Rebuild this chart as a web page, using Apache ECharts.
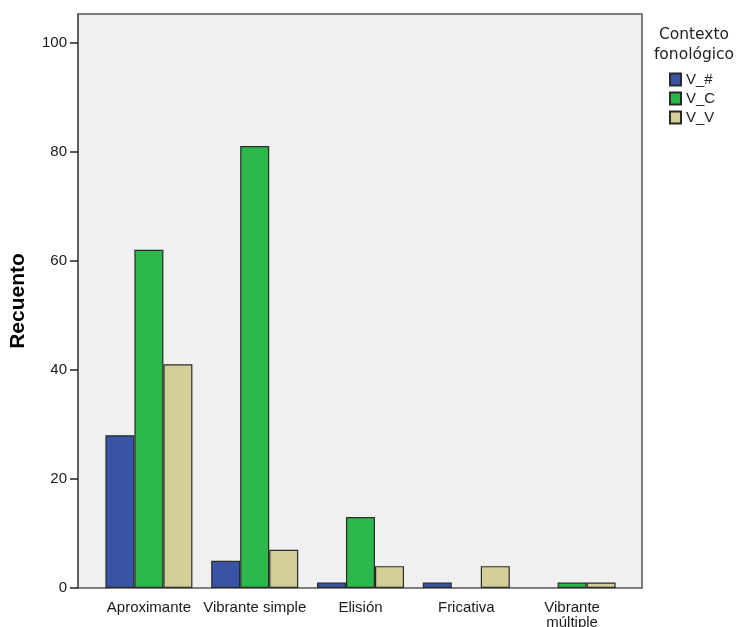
<!DOCTYPE html>
<html>
<head>
<meta charset="utf-8">
<script src="https://cdn.jsdelivr.net/npm/echarts@6/dist/echarts.min.js"></script>
<style>
  html, body { margin: 0; padding: 0; background: #fff; }
  #chart { width: 736px; height: 627px; }
</style>
</head>
<body>
<div id="chart"></div>
<script>
// datos
const categories = ['Aproximante', 'Vibrante simple', 'Elisión', 'Fricativa', 'Vibrante\nmúltiple']
const vHash = [28, 5, 1, 1, 0]
const vC = [62, 81, 13, 0, 1]
const vV = [41, 7, 4, 4, 1]
const yTicks = [0, 20, 40, 60, 80, 100]

const font = 'Liberation Sans, Arial, sans-serif'
// las barras con 0 no se dibujan
const noZero = arr => arr.map(v => (v === 0 ? '-' : v))

function barSeries(name, data, color) {
  return {
    name: name,
    type: 'bar',
    xAxisIndex: 1,
    yAxisIndex: 1,
    data: noZero(data),
    barWidth: 29,
    barGap: '0%',
    itemStyle: {
      color: color,
      borderColor: '#2a2a2a',
      borderWidth: 1.2,
    },
  }
}

const chart = echarts.init(document.querySelector('#chart'))
chart.setOption({
  animation: false,
  title: {
    text: 'Contexto\nfonológico',
    left: 694,
    top: 25,
    padding: 0,
    textAlign: 'center',
    textStyle: {
      fontFamily: 'DejaVu Sans',
      fontSize: 15.5,
      fontWeight: 'normal',
      color: '#222',
      lineHeight: 20,
    },
  },
  legend: {
    orient: 'vertical',
    left: 669,
    top: 72,
    padding: 0,
    icon: 'rect',
    itemWidth: 11,
    itemHeight: 12,
    itemGap: 4,
    textStyle: { fontFamily: font, fontSize: 15, color: '#222' },
    data: ['V_#', 'V_C', 'V_V'],
  },
  grid: [
    // marco exterior
    {
      left: 78, right: 94, top: 14, bottom: 39,
      show: true,
      backgroundColor: '#f0f0f0',
      borderColor: '#555',
      borderWidth: 1.5,
      outerBoundsMode: 'none',
    },
    // zona de barras
    { left: 96, right: 111, top: 14, bottom: 39, outerBoundsMode: 'none', containLabel: false },
  ],
  xAxis: [
    { gridIndex: 0, type: 'value', show: false },
    {
      gridIndex: 1,
      type: 'category',
      data: categories,
      axisLine: { show: false },
      axisTick: {
        alignWithLabel: true,
        length: 8,
        lineStyle: { color: '#333', width: 1.5 },
      },
      axisLabel: {
        interval: 0,
        margin: 12,
        fontFamily: font,
        fontSize: 15,
        color: '#1a1a1a',
        lineHeight: 15,
      },
    },
  ],
  yAxis: [
    { gridIndex: 0, type: 'value', show: false },
    {
      gridIndex: 1,
      type: 'value',
      min: 0,
      max: 105.2,
      offset: 18,
      name: 'Recuento',
      nameLocation: 'middle',
      nameGap: 49,
      nameTextStyle: {
        fontFamily: font,
        fontSize: 21,
        fontWeight: 'bold',
        color: '#000',
      },
      splitLine: { show: false },
      axisLine: { show: true, lineStyle: { color: '#555', width: 1.5 } },
      axisTick: {
        show: true,
        length: 8,
        customValues: yTicks,
        lineStyle: { color: '#222', width: 1.5 },
      },
      axisLabel: {
        customValues: yTicks,
        margin: 11,
        fontFamily: font,
        fontSize: 15,
        color: '#1a1a1a',
      },
    },
  ],
  series: [
    barSeries('V_#', vHash, '#3a54a5'),
    barSeries('V_C', vC, '#2db84b'),
    barSeries('V_V', vV, '#d4cf98'),
  ],
})
</script>
</body>
</html>
